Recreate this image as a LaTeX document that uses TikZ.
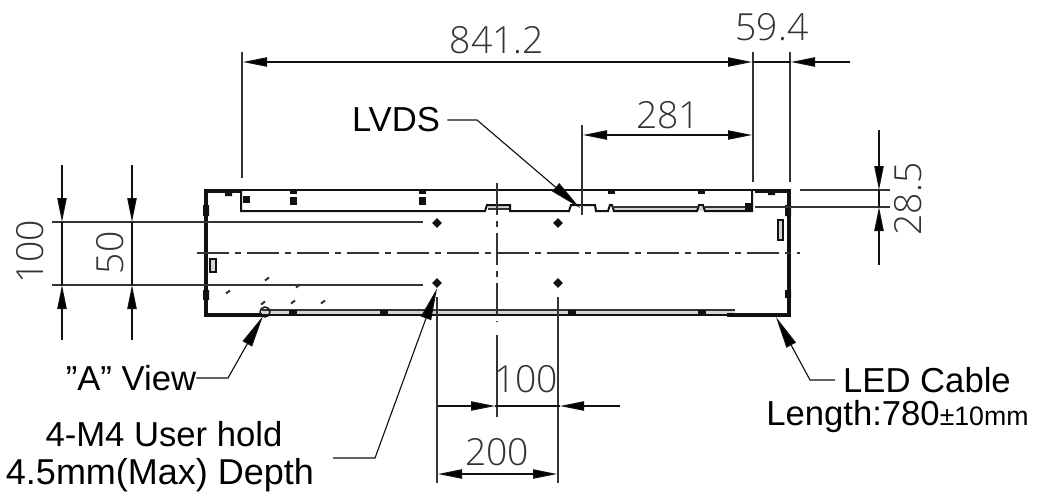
\documentclass[tikz,border=0pt]{standalone}
\usepackage{fontspec}
\setmainfont{Liberation Sans}
\newfontfamily\cadfont{Open Sans Light}
\usetikzlibrary{arrows.meta,shapes.geometric}
\definecolor{ink}{HTML}{111111}
\definecolor{dimink}{HTML}{333333}
\definecolor{midgrey}{HTML}{D4D4D4}
\tikzset{
  px/.style={x=0.75pt,y=-0.75pt},
  wall/.style={line width=3pt,draw=ink},
  outline/.style={line width=1.5pt,draw=ink},
  thinline/.style={line width=1pt,draw=dimink},
  extline/.style={line width=1.1pt,draw=dimink},
  centerline/.style={line width=1pt,draw=dimink,dash pattern=on 24pt off 4.5pt on 4.5pt off 4.5pt},
  dimarrow/.style={line width=0.85pt,draw=ink,-{Triangle[length=18pt,width=7pt,fill=black]}},
  dimboth/.style={line width=0.85pt,draw=ink,{Triangle[length=18pt,width=7pt,fill=black]}-{Triangle[length=18pt,width=7pt,fill=black]}},
  leadarrow/.style={line width=0.85pt,draw=ink,-{Triangle[length=24pt,width=8pt,fill=black]}},
  plainline/.style={line width=0.85pt,draw=ink},
  cadtext/.style={font=\cadfont\fontsize{28}{29}\selectfont,text=dimink,inner sep=0pt},
  labeltext/.style={font=\fontsize{26}{28}\selectfont,text=black,inner sep=0pt},
  blockfill/.style={fill=ink,draw=none},
  speck/.style={line width=1.5pt,draw=dimink},
  smallbox/.style={line width=1pt,draw=ink,fill=midgrey},
  hole/.style={fill=ink,draw=none,diamond,inner sep=0pt,minimum size=7.5pt},
}
\begin{document}
\begin{tikzpicture}[px]
\useasboundingbox (0,0) rectangle (1042,497);
\fill[white] (0,0) rectangle (1042,497);

% --- shaded gaps of double lines
\fill[midgrey] (262,310) rectangle (735,315);
\fill[midgrey] (612,207) rectangle (745,211);
\fill[midgrey] (488,205) rectangle (509,209);

% --- panel outline
\draw[outline] (205,190) -- (790,190);
\draw[outline] (241,190) -- (241,211) -- (485,211) -- (487,205) -- (510,205) -- (510,211) -- (569,211) -- (571,205) -- (595,205) -- (596,211) -- (608,211) -- (610,205) -- (612,205) -- (614,211) -- (697,211) -- (699,205) -- (703,205) -- (705,211) -- (752,211) -- (752,190);
\draw[thinline] (612,207) -- (698,207) (705,207) -- (745,207);
\draw[thinline] (488,209) -- (509,209);
\draw[outline] (262,315) -- (790,315);
\draw[thinline] (262,310) -- (735,310);
\draw[wall] (241,191) -- (205.5,191) -- (205.5,315) -- (262,315);
\draw[wall] (755,191) -- (789,191) -- (789,315) -- (727,315);
\fill[ink] (203,205) rectangle (209,216) (203,290) rectangle (209,300) (785,205) rectangle (791,216) (785,290) rectangle (791,298);
\fill[ink] (225,191) rectangle (232,196) (768,191) rectangle (775,195);

% --- small blocks
\foreach \bx in {243} \fill[blockfill] (\bx,196) rectangle ++(7,7);
\fill[blockfill] (745,203) rectangle (752,211);
\foreach \bx in {290,419} {\fill[blockfill] (\bx,191) rectangle ++(7,3); \fill[blockfill] (\bx,197) rectangle ++(7,8);}
\foreach \bx in {608,698} \fill[blockfill] (\bx,190) rectangle ++(7,4);
\foreach \bx in {289,380,568,698} \fill[blockfill] (\bx,310) rectangle ++(8,5);
\draw[smallbox] (210,259) rectangle (216,272);
\draw[smallbox] (778,220) rectangle (783,240);
\draw[line width=1.1pt,draw=ink] (265,312) circle (5);

% --- specks
\foreach \sx/\sy in {267/279,298/286,228/292,263/303,293/302,323/302}
  \draw[speck] (\sx-2,\sy+1.5) -- (\sx+2,\sy-1.5);

% --- mounting holes
\foreach \nm/\hx/\hy in {ha/437/223,hb/558/223,hc/437/283,hd/558/283}
  \node[hole] (\nm) at (\hx,\hy) {};

% --- centre lines
\coordinate (cl) at (197,253); \coordinate (cr) at (800,253);
\coordinate (ct) at (497,183); \coordinate (cb) at (497,322);
\draw[centerline] (cl) -- (cr);
\draw[centerline] (ct) -- (cb);

% --- extension lines
\coordinate (e1t) at (242,52); \coordinate (e1b) at (242,178);
\coordinate (e2t) at (753,52); \coordinate (e2b) at (753,182);
\coordinate (e3t) at (790,52); \coordinate (e3b) at (790,182);
\coordinate (e4t) at (582,125); \coordinate (e4b) at (582,215);
\draw[extline] (e1t) -- (e1b);
\draw[extline] (e2t) -- (e2b);
\draw[extline] (e3t) -- (e3b);
\draw[extline] (e4t) -- (e4b);
\coordinate (r1a) at (800,190); \coordinate (r1b) at (890,190);
\coordinate (r2a) at (755,207); \coordinate (r2b) at (890,207);
\draw[thinline] (r1a) -- (r1b);
\draw[thinline] (r2a) -- (r2b);
\coordinate (l1a) at (52,222); \coordinate (l1b) at (423,222);
\coordinate (l2a) at (52,285); \coordinate (l2b) at (423,285);
\draw[extline] (l1a) -- (l1b);
\draw[extline] (l2a) -- (l2b);
\coordinate (b1a) at (437,297); \coordinate (b1b) at (437,483);
\coordinate (b2a) at (558,297); \coordinate (b2b) at (558,483);
\coordinate (b3a) at (497,335); \coordinate (b3b) at (497,417);
\draw[extline] (b1a) -- (b1b);
\draw[extline] (b2a) -- (b2b);
\draw[extline] (b3a) -- (b3b);

% --- dimensions
\node[cadtext] (d841) at (497,40) {841.2};
\coordinate (a1) at (243,62); \coordinate (a2) at (752,62);
\draw[dimboth] (a1) -- (a2);
\node[cadtext] (d59) at (772,27) {59.4};
\coordinate (a3) at (850,62); \coordinate (a4) at (791,62);
\draw[plainline] (e2t |- a4) -- (a4);
\draw[dimarrow] (a3) -- (a4);
\node[cadtext] (d281) at (668,115) {281};
\coordinate (a5) at (583,135); \coordinate (a6) at (752,135);
\draw[dimboth] (a5) -- (a6);

\node[cadtext,rotate=90] (d285) at (908,199) {28.5};
\coordinate (a7) at (879,130); \coordinate (a8) at (879,190);
\coordinate (a9) at (879,265); \coordinate (a10) at (879,207);
\draw[dimarrow] (a7) -- (a8);
\draw[dimarrow] (a9) -- (a10);
\draw[plainline] (a8) -- (a10);

\node[cadtext,rotate=90] (d100l) at (30,252) {100};
\coordinate (a11) at (62,165); \coordinate (a12) at (62,222);
\coordinate (a13) at (62,340); \coordinate (a14) at (62,285);
\draw[dimarrow] (a11) -- (a12);
\draw[dimarrow] (a13) -- (a14);
\draw[plainline] (a12) -- (a14);

\node[cadtext,rotate=90] (d50) at (110,253) {50};
\coordinate (a15) at (132,165); \coordinate (a16) at (132,222);
\coordinate (a17) at (132,340); \coordinate (a18) at (132,285);
\draw[dimarrow] (a15) -- (a16);
\draw[dimarrow] (a17) -- (a18);
\draw[plainline] (a16) -- (a18);

\node[cadtext] (d100b) at (526,379) {100};
\coordinate (a19) at (438,406); \coordinate (a20) at (495,406);
\coordinate (a21) at (620,406); \coordinate (a22) at (560,406);
\draw[dimarrow] (a19) -- (a20);
\draw[dimarrow] (a21) -- (a22);
\draw[plainline] (a20) -- (a22);

\node[cadtext] (d200) at (497,452) {200};
\coordinate (a23) at (438,474); \coordinate (a24) at (557,474);
\draw[dimboth] (a23) -- (a24);

% --- callouts
\node[labeltext] (lvds) at (396,120) {LVDS};
\coordinate (lv1) at (477,120); \coordinate (lv2) at (580,208);
\draw[leadarrow] (lvds.east) ++(7,0) -- (lv1) -- (lv2);

\node[labeltext] (aview) at (131,378) {\symbol{34}A\symbol{34} View};
\coordinate (av1) at (228,378); \coordinate (av2) at (263,316);
\draw[leadarrow] (aview.east) -- (av1) -- (av2);

\node[labeltext] (hold1) at (164,434) {4-M4 User hold};
\node[labeltext,font=\fontsize{27}{28}\selectfont] (hold2) at (160,475) {4.5mm(Max) Depth};
\coordinate (h1) at (333,458); \coordinate (h2) at (375,458);
\draw[leadarrow] (h1) -- (h2) -- (hc.south);

\node[labeltext] (led) at (927,380) {LED Cable};
\node[labeltext,anchor=west] (len) at (766,417) {Length:780{\fontsize{20}{20}\selectfont±10mm}};
\coordinate (le1) at (810,380);
\coordinate (le2) at (776,317);
\draw[leadarrow] (led.west) ++(-8,0) -- (le1) -- (le2);
\end{tikzpicture}
\end{document}
